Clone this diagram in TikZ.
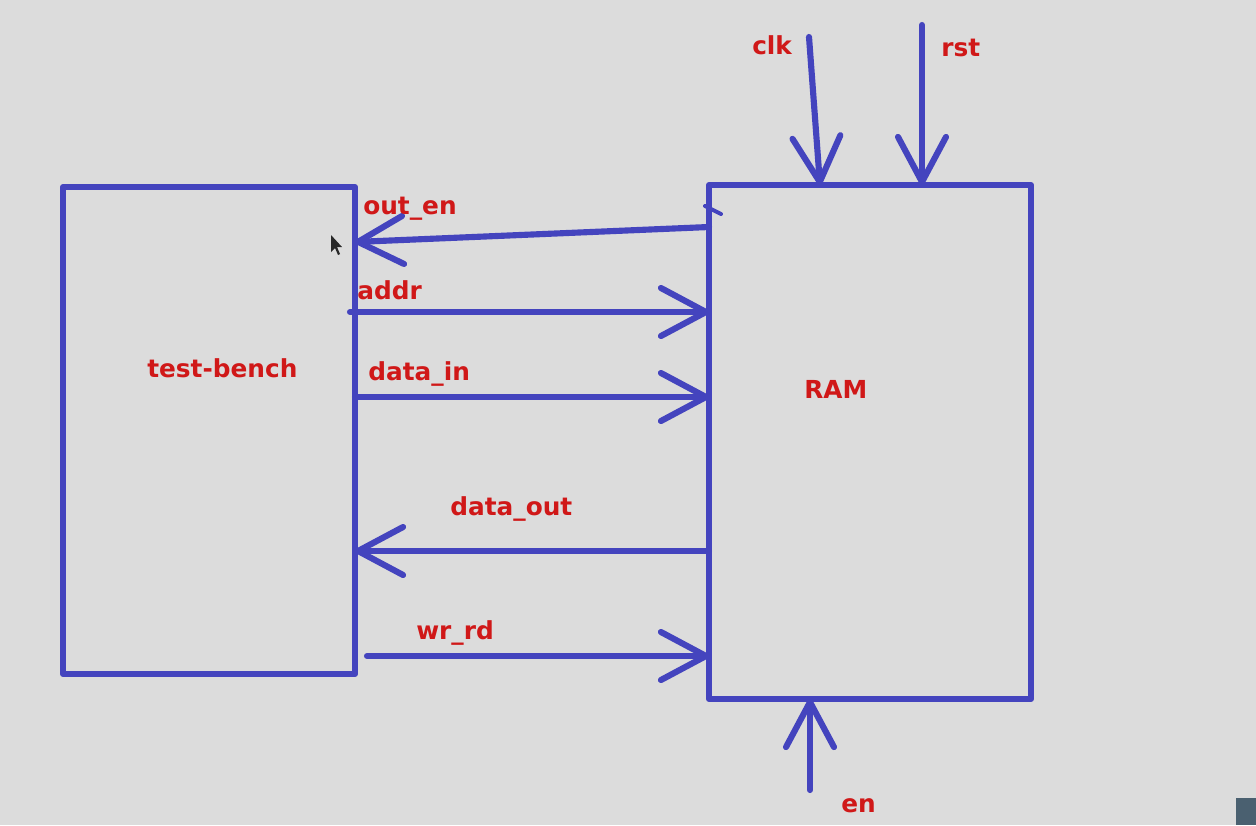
\documentclass[tikz,border=0pt]{standalone}
\usepackage{fontspec}
\setmainfont{DejaVu Sans}
\usetikzlibrary{arrows.meta,calc}
\definecolor{wireblue}{RGB}{68,68,190}
\definecolor{labelred}{RGB}{208,24,24}
\definecolor{screengray}{RGB}{220,220,220}
\tikzset{
  blockbox/.style={draw=wireblue, line width=4.6pt, inner sep=0pt, outer sep=0pt, anchor=north west, line join=round},
  wire/.style={draw=wireblue, line width=4.6pt, line cap=round, -{Straight Barb[length=33.75pt,width=36pt,round]}},
  sig/.style={text=labelred, font=\bfseries\fontsize{18.6}{20}\selectfont, inner sep=0pt, anchor=base west},
}
\begin{document}
\begin{tikzpicture}[x=0.75pt,y=0.75pt,yscale=-1,xscale=1]
%set diagram left start at 0, and has height of 825
\fill[screengray] (0,0) rectangle (1256,825);

%Shape: Rectangle [test-bench]
\node[blockbox, minimum width=219pt, minimum height=365.25pt] (tb) at (63,187) {};
%Shape: Rectangle [RAM]
\node[blockbox, minimum width=241.5pt, minimum height=385.5pt] (ram) at (709,185) {};

%free ends of the inputs
\coordinate (clk in) at (809,37);
\coordinate (rst in) at (922,25);
\coordinate (en in) at (810,790);

%Straight Lines [out_en]
\draw[wire] (ram.west |- 0,227) -- (tb.east |- 0,242);
%Straight Lines [addr]
\draw[wire] ($(tb.east |- 0,312)+(-5,0)$) -- (ram.west |- 0,312);
%Straight Lines [data_in]
\draw[wire] (tb.east |- 0,397) -- (ram.west |- 0,397);
%Straight Lines [data_out]
\draw[wire] (ram.west |- 0,551) -- (tb.east |- 0,551);
%Straight Lines [wr_rd]
\draw[wire] ($(tb.east |- 0,656)+(12,0)$) -- (ram.west |- 0,656);
%Straight Lines [clk]
\draw[wire] (clk in) -- (ram.north -| 820,0);
%Straight Lines [rst]
\draw[wire] (rst in) -- (ram.north -| rst in);
%Straight Lines [en]
\draw[wire] (en in) -- (ram.south -| en in);
%small tick on RAM corner
\draw[draw=wireblue, line width=3pt, line cap=round] (705,206) -- (721,214);

%Shape: pointer
\fill[fill={rgb,255:red,40;green,40;blue,40}] (331,235) -- (331,252) -- (335,248) -- (338,255) -- (340,254) -- (337,247) -- (342,247) -- cycle;
%Shape: corner square
\fill[fill={rgb,255:red,74;green,96;blue,112}] (1236,798) rectangle (1256,825);

% Text Node
\node[sig] (tb-lbl) at (147,377) {test-bench};
% Text Node
\node[sig] (ram-lbl) at (804,398) {RAM};
% Text Node
\node[sig] (clk-lbl) at (752,54) {clk};
% Text Node
\node[sig] (rst-lbl) at (941,56) {rst};
% Text Node
\node[sig] (en-lbl) at (841,812) {en};
% Text Node
\node[sig] (outen-lbl) at (363,214) {out\_en};
% Text Node
\node[sig] (addr-lbl) at (357,299) {addr};
% Text Node
\node[sig] (datain-lbl) at (368,380) {data\_in};
% Text Node
\node[sig] (dataout-lbl) at (450,515) {data\_out};
% Text Node
\node[sig] (wrrd-lbl) at (416,639) {wr\_rd};

\end{tikzpicture}
\end{document}
